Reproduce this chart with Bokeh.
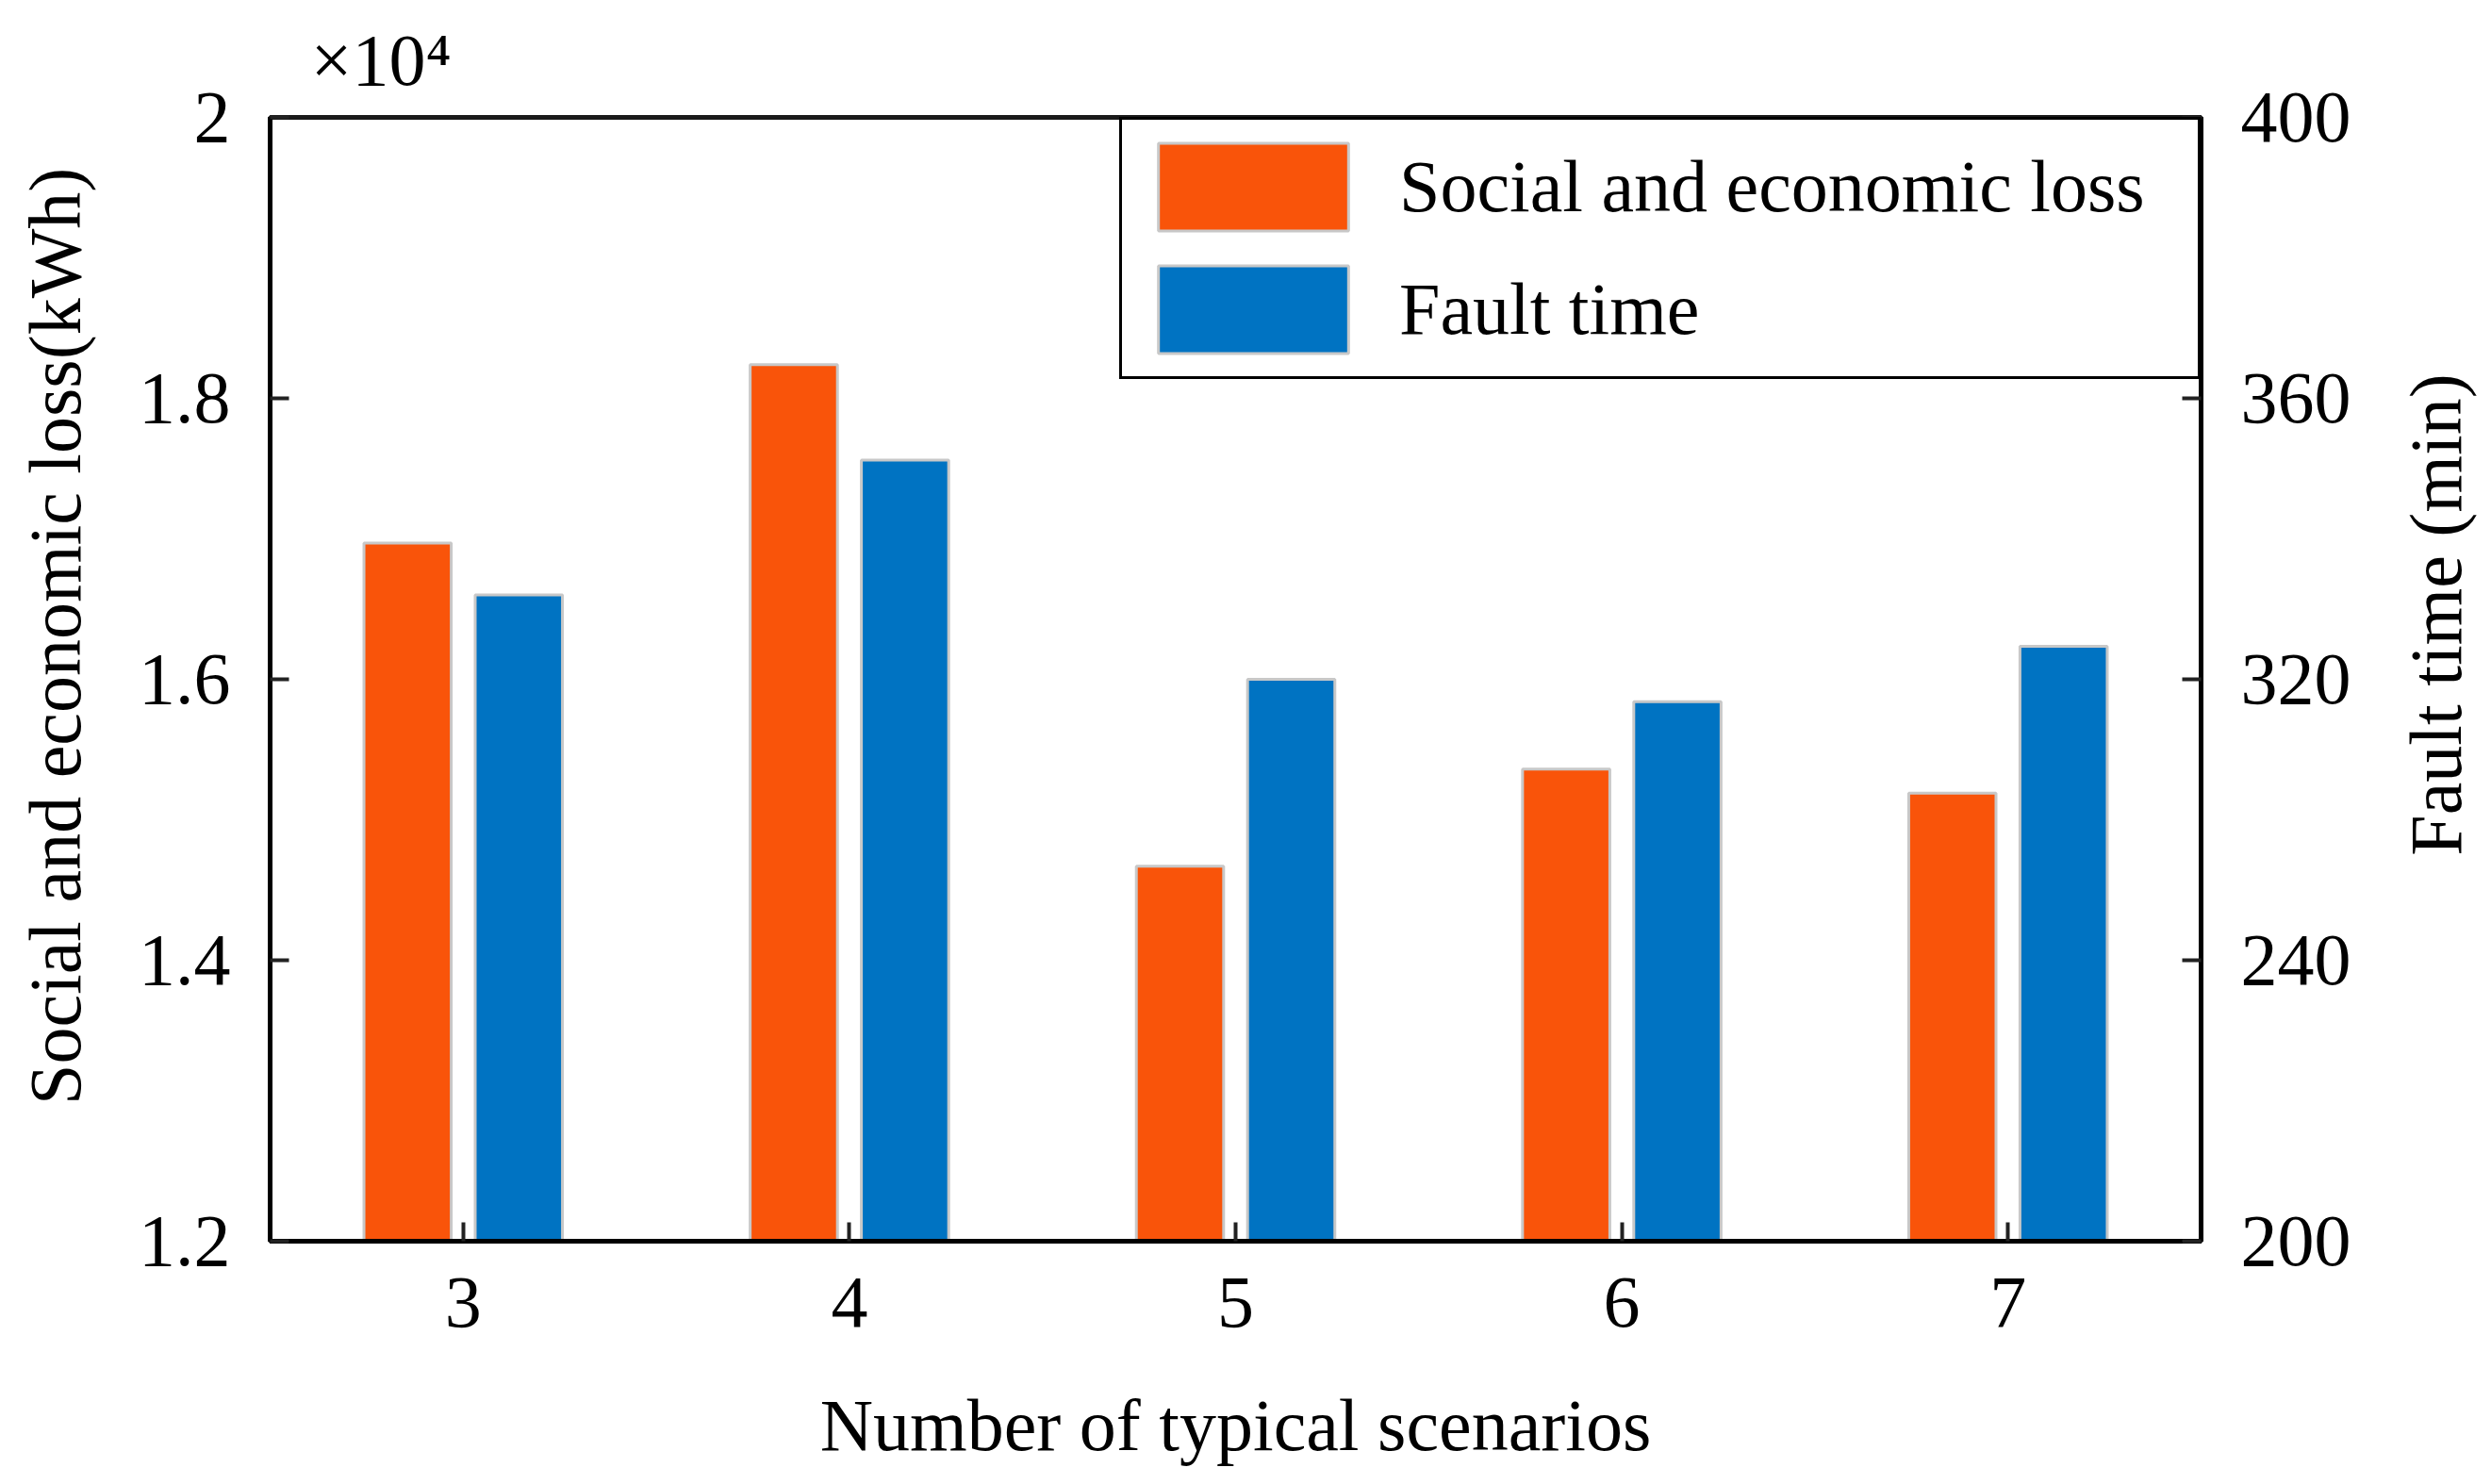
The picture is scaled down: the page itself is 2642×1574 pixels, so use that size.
import math
from bokeh.plotting import figure
from bokeh.layouts import row
from bokeh.models import (Range1d, LinearAxis, FixedTicker, ColumnDataSource,
                          Legend, LegendItem, Title)
from bokeh.core.properties import value
from bokeh.transform import dodge
from bokeh.embed import file_html
from bokeh.resources import INLINE

# ---- data ----
scenarios = [3, 4, 5, 6, 7]
social_loss = [16970, 18240, 14670, 15360, 15190]      # kWh
fault_time = [332.0, 351.2, 320.0, 316.8, 324.7]       # min

x_ticks = [3, 4, 5, 6, 7]
left_ticks = [12000, 14000, 16000, 18000, 20000]
left_tick_labels = ["1.2", "1.4", "1.6", "1.8", "2"]
right_ticks = [240, 280, 320, 360, 400]
right_tick_labels = ["200", "240", "320", "360", "400"]

series_names = ["Social and economic loss", "Fault time"]
x_label = "Number of typical scenarios"
left_label = "Social and economic loss(kWh)"
right_label = "Fault time (min)"
scale_text = "×10⁴"

# ---- style ----
FONT = "Liberation Serif"
FS = "78px"
ORANGE = "#F9540A"
BLUE = "#0073C2"
EDGE = "#C8C8C8"

H = 1566
W_LEFT = 130
W_RIGHT = 124
W_TOTAL = 2634
W_MAIN = W_TOTAL - W_LEFT - W_RIGHT
FRAME_L, FRAME_R = 286, 2334   # page x of plot frame edges

p = figure(width=W_MAIN, height=H,
           x_range=Range1d(2.5, 7.5), y_range=Range1d(12000, 20000),
           output_backend="svg", toolbar_location=None,
           min_border_left=FRAME_L - W_LEFT,
           min_border_right=W_MAIN - (FRAME_R - W_LEFT),
           min_border_top=123, min_border_bottom=250)
p.extra_y_ranges = {"ft": Range1d(240, 400)}
p.xgrid.visible = False
p.ygrid.visible = False
p.outline_line_color = "#1a1a1a"
p.outline_line_width = 5
p.background_fill_color = "white"
p.border_fill_color = "white"

src = ColumnDataSource(dict(x=scenarios, loss=social_loss, ft=fault_time))
r1 = p.vbar(x=dodge("x", -0.144, range=p.x_range), top="loss", bottom=12000,
            width=0.226, source=src, fill_color=ORANGE, line_color=EDGE, line_width=3)
r2 = p.vbar(x=dodge("x", 0.144, range=p.x_range), top="ft", bottom=240,
            width=0.226, source=src, y_range_name="ft",
            fill_color=BLUE, line_color=EDGE, line_width=3)

right_axis = LinearAxis(y_range_name="ft")
p.add_layout(right_axis, "right")

p.xaxis.ticker = FixedTicker(ticks=x_ticks)
p.yaxis[0].ticker = FixedTicker(ticks=left_ticks)
p.yaxis[0].major_label_overrides = dict(zip(left_ticks, left_tick_labels))
right_axis.ticker = FixedTicker(ticks=right_ticks)
right_axis.major_label_overrides = dict(zip(right_ticks, right_tick_labels))
p.xaxis.axis_label = x_label

for ax in [p.xaxis[0], p.yaxis[0], right_axis]:
    ax.axis_line_color = "black"
    ax.axis_line_width = 5
    ax.major_tick_in = 20
    ax.major_tick_out = 0
    ax.major_tick_line_width = 4
    ax.major_tick_line_color = "#222222"
    ax.minor_tick_line_color = None
    ax.major_label_text_font = FONT
    ax.major_label_text_font_size = FS
    ax.major_label_text_color = "black"
    ax.axis_label_text_font = FONT
    ax.axis_label_text_font_size = FS
    ax.axis_label_text_font_style = "normal"
    ax.axis_label_text_color = "black"

p.xaxis.major_label_standoff = 39
p.xaxis.axis_label_standoff = 58
p.yaxis[0].major_label_standoff = 42
right_axis.major_label_standoff = 42

legend = Legend(items=[LegendItem(label=series_names[0], renderers=[r1]),
                       LegendItem(label=series_names[1], renderers=[r2])],
                location="top_right")
legend.margin = 0
legend.padding = 13
legend.spacing = 14
legend.glyph_width = 252
legend.glyph_height = 116
legend.label_height = 93
legend.label_width = 834
legend.label_standoff = 29
legend.label_text_font = FONT
legend.label_text_font_size = FS
legend.label_text_color = "black"
legend.border_line_color = "black"
legend.border_line_alpha = 1.0
legend.border_line_width = 3
legend.background_fill_color = "white"
legend.background_fill_alpha = 1
p.add_layout(legend)

title = Title(text=scale_text, align="left", offset=43, standoff=35,
              text_font=FONT, text_font_size=FS, text_font_style="normal",
              text_color="black")
p.add_layout(title, "above")


def side_strip(width, label, cx, cy):
    s = figure(width=width, height=H, x_range=Range1d(0, width), y_range=Range1d(H, 0),
               output_backend="svg", toolbar_location=None,
               x_axis_type=None, y_axis_type=None,
               min_border_left=0, min_border_right=0, min_border_top=0, min_border_bottom=0)
    s.xgrid.visible = False
    s.ygrid.visible = False
    s.outline_line_color = None
    s.background_fill_color = "white"
    s.border_fill_color = "white"
    s.text(x=[cx], y=[cy], text=[label], angle=math.pi / 2,
           text_align="center", text_baseline="middle",
           text_font=value(FONT), text_font_size=FS, text_color="black")
    return s


left_strip = side_strip(W_LEFT, left_label, 58, 723)
right_strip = side_strip(W_RIGHT, right_label, 2583 - (W_TOTAL - W_RIGHT), 693)

layout = row(left_strip, p, right_strip, spacing=0)
open("out.html", "w").write(file_html(layout, INLINE))
